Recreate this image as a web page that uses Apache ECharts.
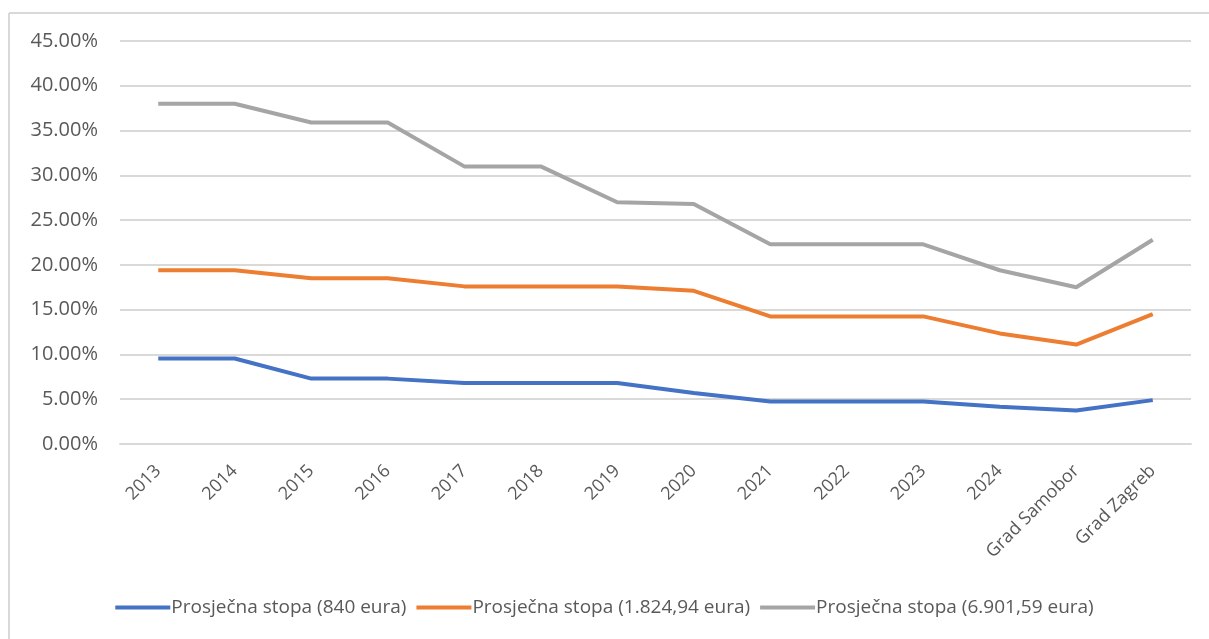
<!DOCTYPE html>
<html>
<head>
<meta charset="utf-8">
<script src="https://cdn.jsdelivr.net/npm/echarts@6/dist/echarts.min.js"></script>
<style>
  html, body { margin: 0; padding: 0; background: #fff; }
  #chart { width: 1209px; height: 639px; }
</style>
</head>
<body>
<div id="chart"></div>
<script>
// kategorije (x os)
var categories = ['2013', '2014', '2015', '2016', '2017', '2018', '2019', '2020', '2021', '2022', '2023', '2024', 'Grad Samobor', 'Grad Zagreb'];

// vrijednosti u postocima
var stopa840  = [9.55, 9.55, 7.3, 7.3, 6.8, 6.8, 6.8, 5.7, 4.75, 4.75, 4.75, 4.15, 3.75, 4.9];
var stopa1824 = [19.4, 19.4, 18.5, 18.5, 17.6, 17.6, 17.6, 17.1, 14.25, 14.25, 14.25, 12.35, 11.1, 14.5];
var stopa6901 = [38.0, 38.0, 35.9, 35.9, 31.0, 31.0, 27.0, 26.8, 22.3, 22.3, 22.3, 19.4, 17.5, 22.8];

var seriesNames = ['Prosječna stopa (840 eura)', 'Prosječna stopa (1.824,94 eura)', 'Prosječna stopa (6.901,59 eura)'];
var colors = ['#4472C4', '#ED7D31', '#A5A5A5'];

var chart = echarts.init(document.getElementById('chart'));

function makeSeries(name, data) {
  return {
    name: name,
    type: 'line',
    data: data,
    symbol: 'none',
    lineStyle: { width: 4 },
    animation: false
  };
}

var option = {
  color: colors,
  textStyle: { fontFamily: 'Open Sans' },
  graphic: [
    { type: 'line', shape: { x1: 9, y1: 13, x2: 1209, y2: 13 }, style: { stroke: '#d9d9d9', lineWidth: 2 } },
    { type: 'line', shape: { x1: 9, y1: 13, x2: 9, y2: 639 }, style: { stroke: '#d9d9d9', lineWidth: 2 } }
  ],
  grid: { left: 120, right: 18, top: 41, height: 403 },
  legend: {
    bottom: 17,
    left: 'center',
    icon: 'rect',
    itemWidth: 55,
    itemHeight: 4,
    itemGap: 10,
    textStyle: { fontFamily: 'Open Sans', fontSize: 19, color: '#595959', padding: [0, 0, 0, -4] },
    data: seriesNames
  },
  xAxis: {
    type: 'category',
    data: categories,
    boundaryGap: true,
    axisLine: { lineStyle: { color: '#d9d9d9', width: 2 } },
    axisTick: { show: false },
    axisLabel: { rotate: 45, color: '#595959', fontFamily: 'Open Sans', fontSize: 18, margin: 24 }
  },
  yAxis: {
    type: 'value',
    min: 0,
    max: 45,
    interval: 5,
    axisLine: { show: false },
    axisTick: { show: false },
    splitLine: { lineStyle: { color: '#d9d9d9', width: 2 } },
    axisLabel: {
      color: '#595959',
      fontFamily: 'Open Sans',
      fontSize: 20,
      margin: 22,
      formatter: function (v) { return v.toFixed(2) + '%'; }
    }
  },
  series: [
    makeSeries(seriesNames[0], stopa840),
    makeSeries(seriesNames[1], stopa1824),
    makeSeries(seriesNames[2], stopa6901)
  ]
};

chart.setOption(option);
</script>
</body>
</html>
